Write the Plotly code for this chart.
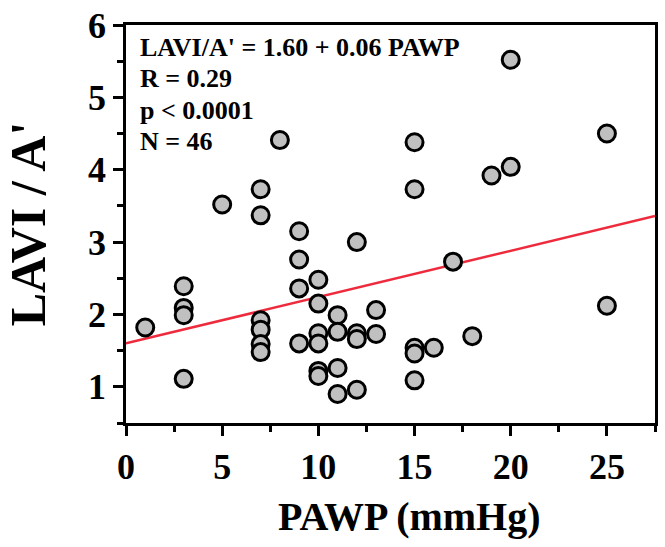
import plotly.graph_objects as go

# Data
pawp = [1, 3, 3, 3, 3, 5, 7, 7, 7, 7, 7, 7, 8, 9, 9, 9, 9,
        10, 10, 10, 10, 10, 10, 11, 11, 11, 11, 12, 12, 12, 12,
        13, 13, 15, 15, 15, 15, 15, 16, 17, 18, 19, 20, 20, 25, 25]
lavi_a = [1.82, 2.39, 2.09, 1.99, 1.11, 3.52, 3.73, 3.37, 1.92, 1.79, 1.59, 1.48, 4.41,
          3.15, 2.76, 2.36, 1.60, 2.48, 2.15, 1.74, 1.60, 1.22, 1.15, 1.99, 1.76, 1.26, 0.90,
          3.00, 1.74, 1.66, 0.96, 2.06, 1.73, 4.38, 3.73, 1.54, 1.46, 1.09, 1.54, 2.73,
          1.70, 3.92, 5.52, 4.04, 4.50, 2.12]

fit_intercept = 1.60
fit_slope = 0.064
x_range = [0, 27.5]
y_range = [0.5, 6]
x_ticks = [0, 5, 10, 15, 20, 25]
y_ticks = [1, 2, 3, 4, 5, 6]
x_title = "PAWP (mmHg)"
y_title = "LAVI / A'"
stats_lines = ["LAVI/A' = 1.60 + 0.06 PAWP", "R = 0.29", "p < 0.0001", "N = 46"]

font_family = "Liberation Serif, Times New Roman, serif"

fig = go.Figure()
fig.add_trace(go.Scatter(
    x=x_range, y=[fit_intercept + fit_slope * v for v in x_range],
    mode="lines", line=dict(color="#ee2b3d", width=2.5), showlegend=False,
    cliponaxis=True,
))
fig.add_trace(go.Scatter(
    x=pawp, y=lavi_a, mode="markers",
    marker=dict(size=17, color="#c0c0c0", line=dict(color="black", width=3)),
    showlegend=False, cliponaxis=False,
))

for i, line in enumerate(stats_lines):
    fig.add_annotation(
        x=0, y=1, xref="paper", yref="paper", xanchor="left", yanchor="middle",
        xshift=12, yshift=-(22 + 31.5 * i),
        text=line, showarrow=False, align="left",
        font=dict(family=font_family, size=26, color="black", weight="bold"),
    )

# x-axis title (placed as annotation, slightly right of centre as in the reference)
fig.add_annotation(
    x=0.5, y=0, xref="paper", yref="paper", xanchor="center", yanchor="middle",
    xshift=19, yshift=-93,
    text=x_title, showarrow=False,
    font=dict(family=font_family, size=40, color="black", weight="bold"),
)

axis_common = dict(
    showline=True, linecolor="black", linewidth=2.5, mirror=True,
    ticks="outside", ticklen=10, tickwidth=2.5, tickcolor="black",
    showgrid=False, zeroline=False,
    tickfont=dict(family=font_family, size=36, color="black", weight="bold"),
)

fig.update_xaxes(
    range=x_range, tickvals=x_ticks, ticktext=[str(v) for v in x_ticks],
    minor=dict(dtick=2.5, tick0=0, ticks="outside", ticklen=6, tickwidth=2.5, tickcolor="black", showgrid=False),
    **axis_common,
)
fig.update_yaxes(
    range=y_range, tickvals=y_ticks, ticktext=[str(v) for v in y_ticks],
    minor=dict(dtick=0.5, tick0=0, ticks="outside", ticklen=6, tickwidth=2.5, tickcolor="black", showgrid=False),
    title=dict(text=y_title, standoff=28,
               font=dict(family=font_family, size=50, color="black", weight="bold")),
    **axis_common,
)

fig.update_layout(
    width=665, height=547,
    margin=dict(l=126, r=10, t=25, b=124, autoexpand=False),
    paper_bgcolor="white", plot_bgcolor="white",
)

fig.write_html("out.html")
